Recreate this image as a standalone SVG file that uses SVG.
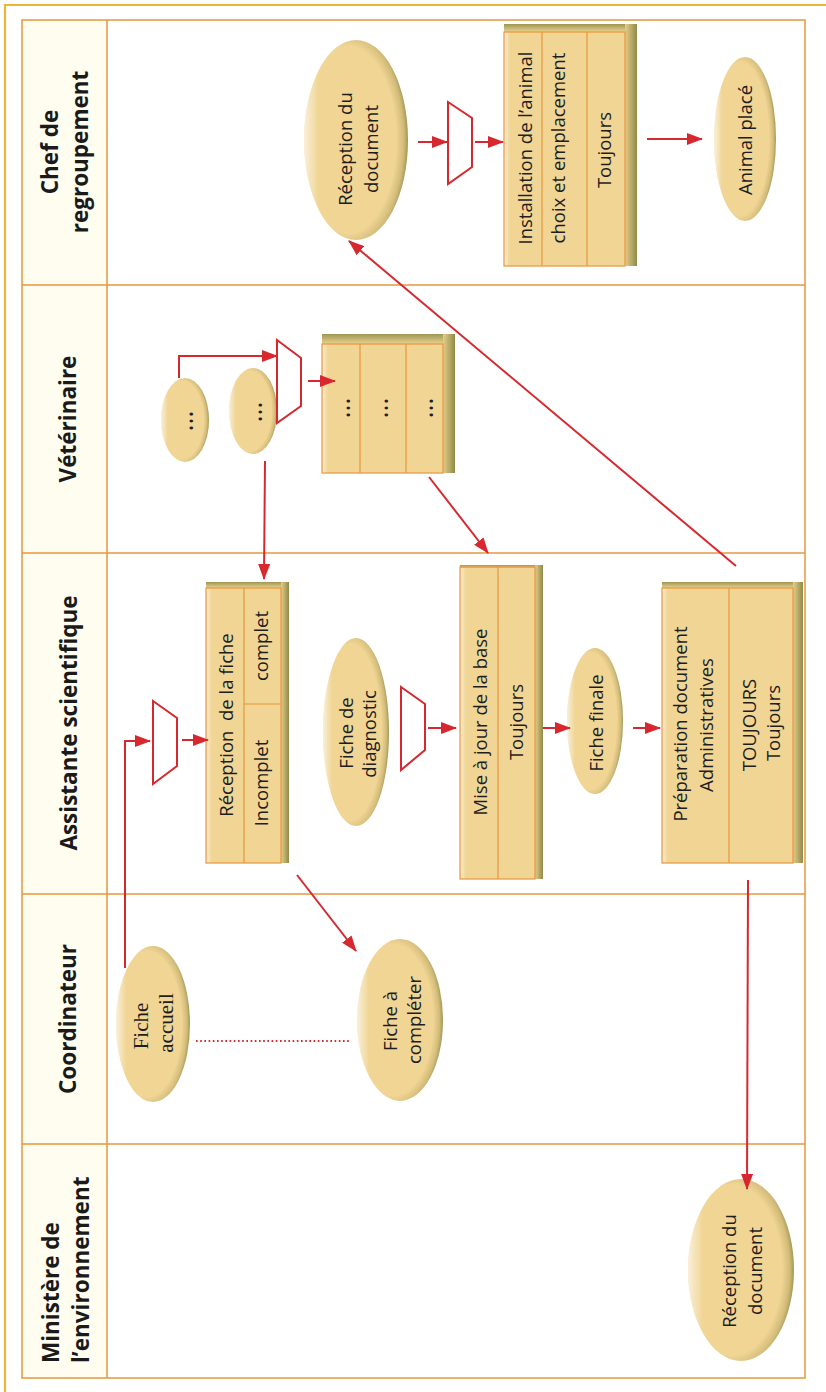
<svg xmlns="http://www.w3.org/2000/svg" width="826" height="1392" viewBox="0 0 826 1392">
  <style>
    .lane { stroke: #e8963c; stroke-width: 1.5; fill: none; }
    .hdr { font-family: "Open Sans", "Noto Sans", "DejaVu Sans", sans-serif; font-weight: bold; font-size: 22.5px; fill: #1a1a1a; text-anchor: middle; }
    .t { font-family: "Open Sans", "Noto Sans", "DejaVu Sans", sans-serif; font-size: 18.5px; fill: #1e1e1e; text-anchor: middle; }
    .dots { font-family: "Open Sans", "Noto Sans", "DejaVu Sans", sans-serif; font-size: 27px; fill: #1e1e1e; text-anchor: middle; }
    .serif { font-family: "Liberation Serif", "DejaVu Serif", serif; font-size: 21px; fill: #1e1e1e; text-anchor: middle; }
    .con { stroke: #d7282f; stroke-width: 2; fill: none; }
    .arr { marker-end: url(#ah); }
    .trap { stroke: #d7282f; stroke-width: 2; fill: #ffffff; stroke-linejoin: miter; }
    .ell { fill: url(#eg); }
    .ellhi { fill: url(#ehi); }
    .boxbg { fill: #f0d595; }
    .boxr { fill: url(#br); }
    .boxt { fill: url(#bt); }
    .boxl { fill: url(#bl); }
    .inner { fill: none; stroke: #e8963c; stroke-width: 1.2; }
    .div { stroke: #e8963c; stroke-width: 1.2; }
  </style>
  <defs>
    <radialGradient id="eg" cx="42%" cy="50%" r="60%">
      <stop offset="0" stop-color="#f0d595"/>
      <stop offset="0.78" stop-color="#f0d595"/>
      <stop offset="0.9" stop-color="#d2bb78"/>
      <stop offset="1" stop-color="#8a8644"/>
    </radialGradient>
    <linearGradient id="ehi" x1="0" y1="0" x2="1" y2="0">
      <stop offset="0" stop-color="#ffffff" stop-opacity="0.65"/>
      <stop offset="0.14" stop-color="#ffffff" stop-opacity="0"/>
    </linearGradient>
    <linearGradient id="br" x1="0" y1="0" x2="1" y2="0">
      <stop offset="0" stop-color="#e6cc8a"/>
      <stop offset="1" stop-color="#8f8b48"/>
    </linearGradient>
    <linearGradient id="bt" x1="0" y1="0" x2="0" y2="1">
      <stop offset="0" stop-color="#9c9752"/>
      <stop offset="1" stop-color="#ecd290"/>
    </linearGradient>
    <linearGradient id="bl" x1="0" y1="0" x2="1" y2="0">
      <stop offset="0" stop-color="#fbeed2"/>
      <stop offset="1" stop-color="#f0d595"/>
    </linearGradient>
    <marker id="ah" markerUnits="userSpaceOnUse" markerWidth="16" markerHeight="12" refX="15" refY="6" orient="auto">
      <path d="M0,0 L16,6 L0,12 z" fill="#d7282f"/>
    </marker>
  </defs>

  <rect width="826" height="1392" fill="#ffffff"/>

  <!-- outer frame -->
  <g id="frame">
    <path d="M5,1392 L5,5 L826,5" fill="none" stroke="#eab634" stroke-width="2.2"/>
  </g>

  <!-- swimlanes -->
  <g id="lanes">
    <rect x="22" y="20" width="85" height="1358" fill="#fffdf0"/>
    <rect class="lane" x="22" y="20" width="783" height="1358"/>
    <line class="lane" x1="107" y1="20" x2="107" y2="1378"/>
    <line class="lane" x1="22" y1="285" x2="805" y2="285"/>
    <line class="lane" x1="22" y1="553" x2="805" y2="553"/>
    <line class="lane" x1="22" y1="894" x2="805" y2="894"/>
    <line class="lane" x1="22" y1="1144" x2="805" y2="1144"/>
  </g>

  <g id="lane-headers">
    <g id="h-chef">
      <text class="hdr" transform="translate(58,152) rotate(-90)">Chef de</text>
      <text class="hdr" transform="translate(88,152) rotate(-90)">regroupement</text>
    </g>
    <g id="h-vet"><text class="hdr" transform="translate(76,419) rotate(-90)">Vétérinaire</text></g>
    <g id="h-assist"><text class="hdr" transform="translate(77,723) rotate(-90)">Assistante scientifique</text></g>
    <g id="h-coord"><text class="hdr" transform="translate(76,1019) rotate(-90)">Coordinateur</text></g>
    <g id="h-min">
      <text class="hdr" style="text-anchor:start" transform="translate(59,1363) rotate(-90)">Ministère de</text>
      <text class="hdr" style="text-anchor:start" transform="translate(89,1363) rotate(-90)">l’environnement</text>
    </g>
  </g>

  <!-- Chef de regroupement -->
  <g id="n-chef-reception">
    <ellipse class="ell" cx="356" cy="140" rx="52" ry="100"/>
    <ellipse class="ellhi" cx="356" cy="140" rx="52" ry="100"/>
    <text class="t" transform="translate(352,149) rotate(-90)">Réception du</text>
    <text class="t" transform="translate(378,149) rotate(-90)">document</text>
  </g>
  <g id="n-chef-trap">
    <polygon class="trap" points="448,102 472,118 472,167 448,184"/>
  </g>
  <g id="n-chef-install">
    <rect class="boxbg" x="504" y="24" width="133" height="242"/>
    <rect class="boxt" x="504" y="24" width="133" height="8"/>
    <rect class="boxr" x="625" y="24" width="12" height="242"/>
    <rect class="boxl" x="504" y="32" width="6" height="234"/>
    <rect class="inner" x="504" y="32" width="121" height="234"/>
    <line class="div" x1="542" y1="32" x2="542" y2="266"/>
    <line class="div" x1="587" y1="32" x2="587" y2="266"/>
    <text class="t" transform="translate(532,148) rotate(-90)">Installation de l’animal</text>
    <text class="t" transform="translate(565,148) rotate(-90)">choix et emplacement</text>
    <text class="t" transform="translate(611,150) rotate(-90)">Toujours</text>
  </g>
  <g id="n-chef-place">
    <ellipse class="ell" cx="745" cy="139" rx="31" ry="82"/>
    <ellipse class="ellhi" cx="745" cy="139" rx="31" ry="82"/>
    <text class="t" transform="translate(752,140) rotate(-90)">Animal placé</text>
  </g>

  <!-- Vétérinaire -->
  <g id="n-vet-e1">
    <ellipse class="ell" cx="185" cy="420" rx="24" ry="42"/>
    <ellipse class="ellhi" cx="185" cy="420" rx="24" ry="42"/>
    <text class="dots" transform="translate(193,421) rotate(-90)">…</text>
  </g>
  <g id="n-vet-e2">
    <ellipse class="ell" cx="253" cy="411" rx="24" ry="43"/>
    <ellipse class="ellhi" cx="253" cy="411" rx="24" ry="43"/>
    <text class="dots" transform="translate(262,412) rotate(-90)">…</text>
  </g>
  <g id="n-vet-trap">
    <polygon class="trap" points="277,340 301,358 301,406 277,423"/>
  </g>
  <g id="n-vet-box">
    <rect class="boxbg" x="322" y="334" width="133" height="139"/>
    <rect class="boxt" x="322" y="334" width="133" height="10"/>
    <rect class="boxr" x="443" y="334" width="12" height="139"/>
    <rect class="boxl" x="322" y="344" width="6" height="129"/>
    <rect class="inner" x="322" y="344" width="121" height="129"/>
    <line class="div" x1="360" y1="344" x2="360" y2="473"/>
    <line class="div" x1="406" y1="344" x2="406" y2="473"/>
    <text class="dots" transform="translate(350,408) rotate(-90)">…</text>
    <text class="dots" transform="translate(388,408) rotate(-90)">…</text>
    <text class="dots" transform="translate(433,408) rotate(-90)">…</text>
  </g>

  <!-- Assistante scientifique -->
  <g id="n-as-trap1">
    <polygon class="trap" points="153,701 177,718 177,766 153,784"/>
  </g>
  <g id="n-as-reception">
    <rect class="boxbg" x="206" y="582" width="83" height="281"/>
    <rect class="boxt" x="206" y="582" width="83" height="6"/>
    <rect class="boxr" x="281" y="582" width="8" height="281"/>
    <rect class="boxl" x="206" y="588" width="6" height="275"/>
    <rect class="inner" x="206" y="588" width="75" height="275"/>
    <line class="div" x1="244" y1="588" x2="244" y2="863"/>
    <line class="div" x1="244" y1="704" x2="281" y2="704"/>
    <text class="t" xml:space="preserve" transform="translate(233,725) rotate(-90)">Réception  de la fiche</text>
    <text class="t" transform="translate(268,646) rotate(-90)">complet</text>
    <text class="t" transform="translate(268,783) rotate(-90)">Incomplet</text>
  </g>
  <g id="n-as-diag">
    <ellipse class="ell" cx="356" cy="732" rx="33" ry="94"/>
    <ellipse class="ellhi" cx="356" cy="732" rx="33" ry="94"/>
    <text class="t" transform="translate(353,733) rotate(-90)">Fiche de</text>
    <text class="t" transform="translate(376,734) rotate(-90)">diagnostic</text>
  </g>
  <g id="n-as-trap2">
    <polygon class="trap" points="401,687 425,704 425,750 401,770"/>
  </g>
  <g id="n-as-maj">
    <rect class="boxbg" x="460" y="565" width="83" height="314"/>
    <rect class="boxt" x="460" y="565" width="83" height="3"/>
    <rect class="boxr" x="535" y="565" width="8" height="314"/>
    <rect class="boxl" x="460" y="568" width="6" height="311"/>
    <rect class="inner" x="460" y="567" width="75" height="312"/>
    <line class="div" x1="498" y1="567" x2="498" y2="879"/>
    <text class="t" transform="translate(487,722) rotate(-90)">Mise à jour de la base</text>
    <text class="t" transform="translate(523,722) rotate(-90)">Toujours</text>
  </g>
  <g id="n-as-finale">
    <ellipse class="ell" cx="595" cy="721" rx="28" ry="73"/>
    <ellipse class="ellhi" cx="595" cy="721" rx="28" ry="73"/>
    <text class="t" transform="translate(603,723) rotate(-90)">Fiche finale</text>
  </g>
  <g id="n-as-prep">
    <rect class="boxbg" x="662" y="582" width="141" height="281"/>
    <rect class="boxt" x="662" y="582" width="141" height="6"/>
    <rect class="boxr" x="793" y="582" width="10" height="281"/>
    <rect class="boxl" x="662" y="588" width="6" height="275"/>
    <rect class="inner" x="662" y="588" width="131" height="275"/>
    <line class="div" x1="729" y1="588" x2="729" y2="863"/>
    <text class="t" transform="translate(687,724) rotate(-90)">Préparation document</text>
    <text class="t" transform="translate(713,725) rotate(-90)">Administratives</text>
    <text class="t" transform="translate(756,725) rotate(-90)">TOUJOURS</text>
    <text class="t" transform="translate(780,723) rotate(-90)">Toujours</text>
  </g>

  <!-- Coordinateur -->
  <g id="n-co-accueil">
    <ellipse class="ell" cx="153" cy="1024" rx="37" ry="78"/>
    <ellipse class="ellhi" cx="153" cy="1024" rx="37" ry="78"/>
    <text class="serif" transform="translate(148,1026) rotate(-90)">Fiche</text>
    <text class="serif" transform="translate(173,1023) rotate(-90)">accueil</text>
  </g>
  <g id="n-co-completer">
    <ellipse class="ell" cx="400" cy="1020" rx="43" ry="81"/>
    <ellipse class="ellhi" cx="400" cy="1020" rx="43" ry="81"/>
    <text class="t" transform="translate(397,1021) rotate(-90)">Fiche à</text>
    <text class="t" transform="translate(421,1020) rotate(-90)">compléter</text>
  </g>

  <!-- Ministère de l'environnement -->
  <g id="n-min-reception">
    <ellipse class="ell" cx="741" cy="1270" rx="53" ry="91"/>
    <ellipse class="ellhi" cx="741" cy="1270" rx="53" ry="91"/>
    <text class="t" transform="translate(736,1271) rotate(-90)">Réception du</text>
    <text class="t" transform="translate(762,1271) rotate(-90)">document</text>
  </g>

  <!-- connectors (drawn on top, as in the reference) -->
  <g id="connectors">
    <line class="con arr" x1="418" y1="142" x2="447" y2="142"/>
    <line class="con arr" x1="475" y1="142" x2="503" y2="142"/>
    <line class="con arr" x1="647" y1="139" x2="702" y2="139"/>
    <line class="con arr" x1="736" y1="566" x2="349" y2="241"/>
    <polyline class="con arr" points="179,378 179,356 277,356"/>
    <line class="con arr" x1="308" y1="381" x2="335" y2="381"/>
    <line class="con arr" x1="265" y1="461" x2="264" y2="579"/>
    <line class="con arr" x1="429" y1="477" x2="488" y2="553"/>
    <polyline class="con arr" points="125,968 125,741 150,741"/>
    <line class="con arr" x1="182" y1="740" x2="208" y2="740"/>
    <line class="con arr" x1="428" y1="728" x2="456" y2="728"/>
    <line class="con arr" x1="543" y1="728" x2="570" y2="728"/>
    <line class="con arr" x1="633" y1="728" x2="660" y2="728"/>
    <line class="con arr" x1="297" y1="875" x2="356" y2="951"/>
    <line class="con arr" x1="748" y1="880" x2="747" y2="1189"/>
    <line class="con" x1="196" y1="1041" x2="349" y2="1041" stroke-width="1.6" stroke-dasharray="1.6 2.6"/>
  </g>
</svg>
